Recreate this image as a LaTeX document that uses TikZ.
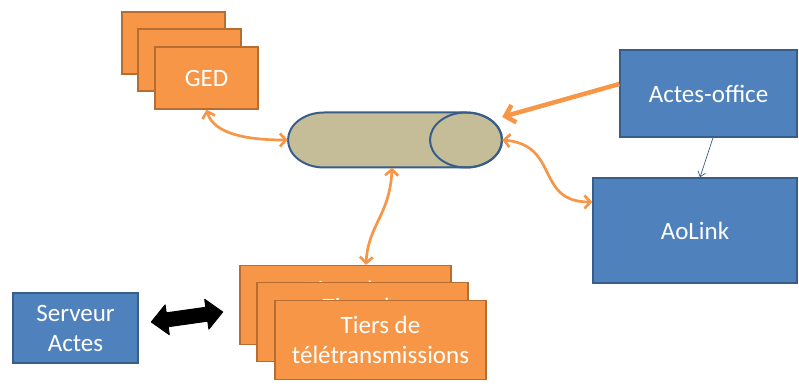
\documentclass[tikz,border=0pt]{standalone}
\usepackage{fontspec}
\setmainfont{Carlito}
\usetikzlibrary{arrows.meta}
\definecolor{orfill}{HTML}{F79646}
\definecolor{ordraw}{HTML}{B66D31}
\definecolor{blfill}{HTML}{4F81BD}
\definecolor{bldraw}{HTML}{385D8A}
\definecolor{cylfill}{HTML}{C4BD97}
\tikzset{
  obox/.style={draw=ordraw,fill=orfill,line width=1.4pt,text=white,align=center,inner sep=0pt,
     font=\fontsize{25}{30}\selectfont},
  bbox/.style={draw=bldraw,fill=blfill,line width=1.4pt,text=white,align=center,inner sep=0pt,
     font=\fontsize{25}{30}\selectfont},
  oarr/.style={draw=orfill,line width=2.7pt,{Straight Barb[length=6pt,width=13pt]}-{Straight Barb[length=6pt,width=13pt]}},
  cylline/.style={draw=bldraw,line width=2pt},
}
\begin{document}
\begin{tikzpicture}[x=1pt,y=-1pt]
\useasboundingbox (0,0) rectangle (799,387);
% GED stack
\node[obox,minimum width=103pt,minimum height=62pt] (ged1) at (173.5,43) {};
\node[obox,minimum width=103pt,minimum height=62pt] (ged2) at (189.5,60) {};
\node[obox,minimum width=103pt,minimum height=62pt] (ged) at (206.5,78) {GED};
% Tiers stack
\node[obox,minimum width=211pt,minimum height=79pt] (t1) at (345.5,305) {Tiers de\\télétransmissions};
\node[obox,minimum width=211pt,minimum height=79pt] (t2) at (362.5,322) {Tiers de\\télétransmissions};
\node[obox,minimum width=211pt,minimum height=79pt] (tiers) at (380.5,340) {Tiers de\\télétransmissions};
% Serveur
\node[bbox,minimum width=125pt,minimum height=70pt] (serv) at (75.5,328) {Serveur\\Actes};
% blue boxes
\node[bbox,minimum width=177pt,minimum height=87pt] (ao) at (708.5,93.5) {Actes-office};
\node[bbox,minimum width=204pt,minimum height=105pt] (aol) at (695,230.5) {AoLink};
% cylinder (horizontal)
\node[minimum width=214pt,minimum height=55pt,inner sep=0pt] (cyl) at (395,140) {};
\filldraw[cylline,fill=cylfill] (466,112.5) -- (324,112.5)
  arc[start angle=-90,end angle=-270,x radius=36,y radius=27.5] -- (466,167.5)
  arc[start angle=90,end angle=-90,x radius=36,y radius=27.5] -- cycle;
\draw[cylline] (466,140) ellipse [x radius=36,y radius=27.5];
% connectors
\draw[oarr] (ged.south) .. controls (214,135) and (250,140) .. (cyl.west);
\draw[oarr] (cyl.south -| 392,0) .. controls (390,215) and (368,225) .. (t1.north -| 366,0);
\draw[draw=orfill,line width=4.5pt,-{Straight Barb[length=9pt,width=18pt]}] (ao.west |- 0,84) -- (cyl.east |- 0,117);
\draw[oarr] (cyl.east) .. controls (560,145) and (535,202) .. (aol.west |- 0,202);
\draw[draw=bldraw,line width=0.7pt,-{Straight Barb[length=5pt,width=8pt]}] (ao.south -| 713,0) -- (aol.north -| 700,0);
% black double arrow between Serveur and Tiers
\coordinate (dbl) at (187,317);
\begin{scope}[shift={(dbl)},rotate=8]
  \filldraw[black,line width=1pt,line join=round]
    (-36,0) -- (-20,-15) -- (-20,-7) -- (20,-7) -- (20,-15) -- (36,0)
    -- (20,15) -- (20,7) -- (-20,7) -- (-20,15) -- cycle;
\end{scope}
\end{tikzpicture}
\end{document}
